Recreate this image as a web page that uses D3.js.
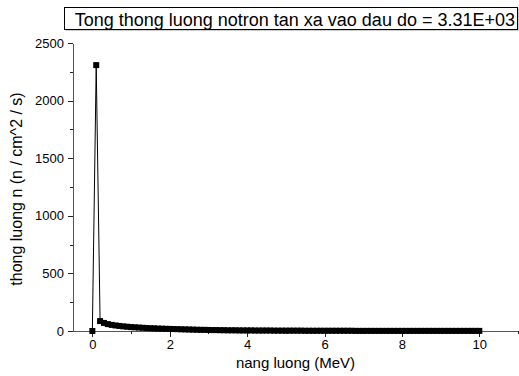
<!DOCTYPE html>
<html>
<head>
<meta charset="utf-8">
<script src="https://cdn.jsdelivr.net/npm/d3@7"></script>
<style>
  body { margin: 0; background: #fff; }
  svg { display: block; font-family: "Liberation Sans", Arial, sans-serif; }
  .axis path, .axis line { shape-rendering: crispEdges; }
</style>
</head>
<body>
<div id="chart"></div>
<script>
// Data
const energy = [
  0.0, 0.1, 0.2, 0.3, 0.4, 0.5, 0.6, 0.7, 0.8, 0.9,
  1.0, 1.1, 1.2, 1.3, 1.4, 1.5, 1.6, 1.7, 1.8, 1.9,
  2.0, 2.1, 2.2, 2.3, 2.4, 2.5, 2.6, 2.7, 2.8, 2.9,
  3.0, 3.1, 3.2, 3.3, 3.4, 3.5, 3.6, 3.7, 3.8, 3.9,
  4.0, 4.1, 4.2, 4.3, 4.4, 4.5, 4.6, 4.7, 4.8, 4.9,
  5.0, 5.1, 5.2, 5.3, 5.4, 5.5, 5.6, 5.7, 5.8, 5.9,
  6.0, 6.1, 6.2, 6.3, 6.4, 6.5, 6.6, 6.7, 6.8, 6.9,
  7.0, 7.1, 7.2, 7.3, 7.4, 7.5, 7.6, 7.7, 7.8, 7.9,
  8.0, 8.1, 8.2, 8.3, 8.4, 8.5, 8.6, 8.7, 8.8, 8.9,
  9.0, 9.1, 9.2, 9.3, 9.4, 9.5, 9.6, 9.7, 9.8, 9.9,
  10.0
];
const flux = [
  0, 2308, 86, 70, 60, 53, 48, 44, 40, 37,
  34, 32, 30, 28, 26, 24, 23, 21, 20, 19,
  18, 17, 16, 15, 14, 13, 12, 11, 10, 10,
  9, 8, 8, 7, 7, 6, 6, 6, 5, 5,
  5, 5, 4, 4, 4, 4, 4, 3, 3, 3,
  3, 3, 3, 3, 3, 2, 2, 2, 2, 2,
  2, 2, 2, 2, 2, 2, 2, 2, 1, 1,
  1, 1, 1, 1, 1, 1, 1, 1, 1, 1,
  1, 1, 1, 1, 1, 1, 1, 1, 1, 1,
  1, 1, 1, 1, 1, 1, 1, 1, 1, 1,
  1
];
const xMajorTicks = [0, 2, 4, 6, 8, 10];
const xMinorTicks = [1, 3, 5, 7, 9, 11];
const yMajorTicks = [0, 500, 1000, 1500, 2000, 2500];
const yMinorTicks = [250, 750, 1250, 1750, 2250];
const titleText = "Tong thong luong notron tan xa vao dau do = 3.31E+03";
const xLabel = "nang luong (MeV)";
const yLabel = "thong luong n (n / cm^2 / s)";

const data = energy.map((e, i) => ({e: e, v: flux[i]}));

// dimensions
const W = 519, H = 376;
const margin = {top: 43, right: 1, bottom: 45, left: 73};
const width = W - margin.left - margin.right;
const height = H - margin.top - margin.bottom;

const root = d3.select("#chart")
  .append("svg")
  .attr("width", W)
  .attr("height", H);

const svg = root.append("g")
  .attr("transform", `translate(${margin.left},${margin.top})`);

// scales
const x = d3.scaleLinear()
  .domain([-0.5, 11])
  .range([0, width]);

const y = d3.scaleLinear()
  .domain([0, 2500])
  .range([height, 0]);

// x axis
const gx = svg.append("g")
  .attr("class", "axis")
  .attr("transform", `translate(0,${height})`);
gx.call(d3.axisBottom(x).tickValues(xMajorTicks).tickSize(6).tickSizeOuter(0).tickPadding(3).tickFormat(d3.format("d")));
gx.append("g")
  .call(d3.axisBottom(x).tickValues(xMinorTicks).tickSize(3).tickSizeOuter(0).tickFormat(""))
  .select(".domain").remove();

// y axis
const gy = svg.append("g")
  .attr("class", "axis");
gy.call(d3.axisLeft(y).tickValues(yMajorTicks).tickSize(5).tickSizeOuter(0).tickPadding(4).tickFormat(d3.format("d")));
gy.append("g")
  .call(d3.axisLeft(y).tickValues(yMinorTicks).tickSize(3).tickSizeOuter(0).tickFormat(""))
  .select(".domain").remove();

svg.selectAll(".axis .domain").attr("stroke", "#555");
svg.selectAll(".axis .tick line").attr("stroke", "#222");
svg.selectAll(".axis .tick text")
  .attr("fill", "#000")
  .style("font-size", "13px")
  .style("font-family", "'Liberation Sans', Arial, sans-serif");

// line + markers
const line = d3.line()
  .x(d => x(d.e))
  .y(d => y(d.v));

svg.append("path")
  .datum(data)
  .attr("fill", "none")
  .attr("stroke", "#000")
  .attr("stroke-width", 1)
  .attr("d", line);

const ms = 6;
svg.selectAll(".pt")
  .data(data)
  .join("rect")
  .attr("class", "pt")
  .attr("x", d => x(d.e) - ms / 2)
  .attr("y", d => y(d.v) - ms / 2)
  .attr("width", ms)
  .attr("height", ms)
  .attr("fill", "#000");

// axis titles
root.append("text")
  .attr("x", margin.left + width / 2)
  .attr("y", 368)
  .attr("text-anchor", "middle")
  .style("font-size", "15px")
  .text(xLabel);

root.append("text")
  .attr("transform", `translate(22,${margin.top + height / 2 + 2}) rotate(-90)`)
  .attr("text-anchor", "middle")
  .style("font-size", "16px")
  .text(yLabel);

// title box with shadow
const box = {x: 64, y: 7, w: 453, h: 22};
root.append("rect")
  .attr("x", box.x + 1.5)
  .attr("y", box.y + 1.5)
  .attr("width", box.w)
  .attr("height", box.h)
  .attr("fill", "#999");
root.append("rect")
  .attr("x", box.x + 0.5)
  .attr("y", box.y + 0.5)
  .attr("width", box.w)
  .attr("height", box.h)
  .attr("fill", "#fff")
  .attr("stroke", "#000")
  .attr("stroke-width", 1);
root.append("text")
  .attr("x", box.x + box.w - 2)
  .attr("y", box.y + 19)
  .attr("text-anchor", "end")
  .style("font-size", "18px")
  .text(titleText);
</script>
</body>
</html>
